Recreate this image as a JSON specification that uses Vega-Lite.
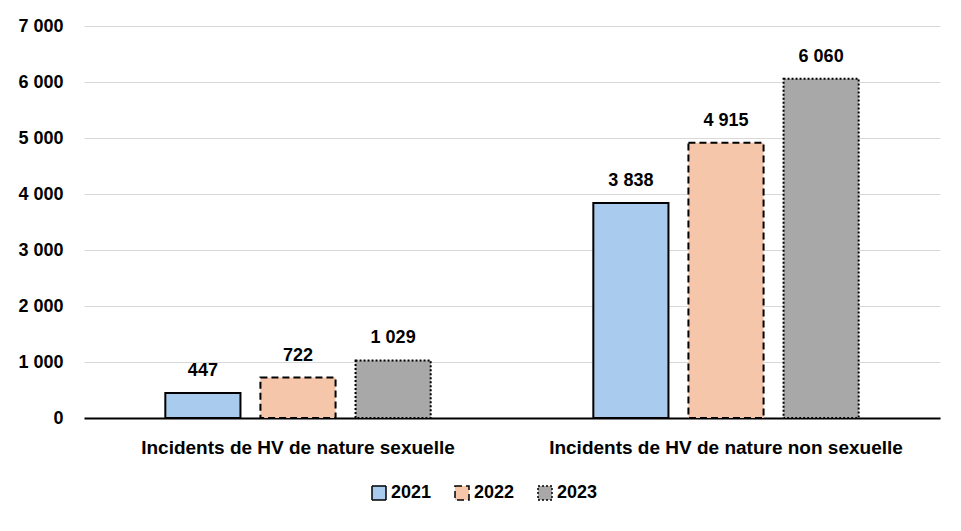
{
  "$schema": "https://vega.github.io/schema/vega-lite/v6.json",
  "width": 856,
  "height": 392,
  "autosize": {"type": "none"},
  "padding": {"left": 84, "top": 26, "right": 21, "bottom": 113},
  "background": "white",
  "config": {
    "font": "Liberation Sans",
    "view": {"stroke": null},
    "locale": {"number": {"decimal": ",", "thousands": " ", "grouping": [3], "currency": ["", " €"]}}
  },
  "data": {
    "values": [
      {"categorie": "Incidents de HV de nature sexuelle", "annee": "2021", "valeur": 447},
      {"categorie": "Incidents de HV de nature sexuelle", "annee": "2022", "valeur": 722},
      {"categorie": "Incidents de HV de nature sexuelle", "annee": "2023", "valeur": 1029},
      {"categorie": "Incidents de HV de nature non sexuelle", "annee": "2021", "valeur": 3838},
      {"categorie": "Incidents de HV de nature non sexuelle", "annee": "2022", "valeur": 4915},
      {"categorie": "Incidents de HV de nature non sexuelle", "annee": "2023", "valeur": 6060}
    ]
  },
  "encoding": {
    "x": {
      "field": "categorie", "type": "nominal", "sort": null,
      "scale": {"paddingInner": 0.38, "paddingOuter": 0.19},
      "axis": {
        "title": null, "labelAngle": 0, "labelFontSize": 19, "labelFontWeight": "bold",
        "labelColor": "black", "labelPadding": 20, "ticks": false, "labelLimit": 500,
        "domainColor": "black", "domainWidth": 2
      }
    },
    "xOffset": {"field": "annee", "type": "nominal", "scale": {"paddingInner": 0.21, "paddingOuter": 0}},
    "y": {
      "field": "valeur", "type": "quantitative",
      "scale": {"domain": [0, 7000], "nice": false},
      "axis": {
        "title": null, "values": [0,1000,2000,3000,4000,5000,6000,7000], "labelOverlap": false,
        "format": ",d", "labelFontSize": 18, "labelFontWeight": "bold", "labelColor": "black",
        "labelPadding": 21, "ticks": false, "domain": false,
        "gridColor": "#d9d9d9", "gridWidth": 1
      }
    }
  },
  "layer": [
    {
      "mark": {"type": "bar", "stroke": "black", "strokeWidth": 2},
      "encoding": {
        "fill": {
          "field": "annee", "type": "nominal",
          "scale": {"domain": ["2021", "2022", "2023"], "range": ["#a9cbed", "#f6c6ab", "#a8a8a8"]},
          "legend": {
            "title": null, "orient": "none", "direction": "horizontal",
            "legendX": 286, "legendY": 458,
            "labelFontSize": 18, "labelFontWeight": "bold", "labelColor": "black",
            "symbolType": "square", "symbolSize": 196, "symbolStrokeColor": "black",
            "symbolStrokeWidth": 1.5, "columnPadding": 20, "labelOffset": 3
          }
        },
        "strokeDash": {
          "field": "annee", "type": "nominal",
          "scale": {"domain": ["2021", "2022", "2023"], "range": [[1, 0], [7, 4], [2, 2]]},
          "legend": null
        }
      }
    },
    {
      "mark": {"type": "text", "baseline": "bottom", "dy": -13, "fontSize": 18, "fontWeight": "bold", "color": "black"},
      "encoding": {
        "text": {"field": "valeur", "type": "quantitative", "format": ",d"}
      }
    }
  ]
}
